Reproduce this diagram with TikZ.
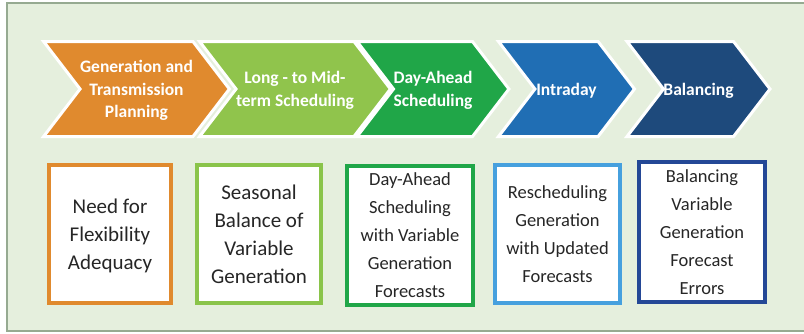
\documentclass[tikz,border=0pt]{standalone}
\usepackage{fontspec}
\setmainfont{Carlito}
\usetikzlibrary{shapes.symbols}

\definecolor{panelfill}{RGB}{229,239,221}
\definecolor{panelline}{RGB}{150,170,145}
\definecolor{planorange}{RGB}{224,138,46}
\definecolor{seasongreen}{RGB}{144,196,76}
\definecolor{daygreen}{RGB}{32,166,72}
\definecolor{intrablue}{RGB}{32,110,180}
\definecolor{balblue}{RGB}{30,74,124}
\definecolor{boxgreen}{RGB}{138,196,74}
\definecolor{boxblue}{RGB}{70,160,222}
\definecolor{boxnavy}{RGB}{36,72,150}
\definecolor{textgray}{RGB}{38,38,38}

\def\panel{(7,3) rectangle (812,331)}

\tikzset{
  stage/.style={signal, signal from=west, signal to=east, signal pointer angle=105,
                draw=white, line width=3pt, minimum height=95pt, inner sep=0pt,
                text depth=0pt, text=white, align=center,
                font=\fontsize{17.5}{22.5}\selectfont\bfseries},
  task/.style={rectangle, draw, line width=4pt, fill=white, inner sep=0pt,
               text depth=0pt, text=textgray, align=center},
  bigtext/.style={font=\fontsize{21}{28}\selectfont},
  smalltext/.style={font=\fontsize{18.5}{28}\selectfont}
}

\begin{document}
\begin{tikzpicture}[x=1pt, y=-1pt]
                      \useasboundingbox (0,0) rectangle (804,333);
                      \begin{scope}
                        \clip (0,0) rectangle (804,333);
                        \draw[panelline, fill=panelfill, line width=2pt] \panel;
                      \end{scope}
                      % stages
                      \node[stage, fill=planorange, minimum width=166pt] (planning) at (136.5,89) {Generation and\\Transmission\\Planning};
                      \node[stage, fill=seasongreen, minimum width=159pt] (longterm) at (295,89) {Long - to Mid-\\term Scheduling};
                      \node[stage, fill=daygreen, minimum width=143pt] (dayahead) at (433,89) {Day-Ahead\\Scheduling};
                      \node[stage, fill=intrablue, minimum width=136pt] (intraday) at (566.5,89) {Intraday};
                      \node[stage, fill=balblue, minimum width=140pt] (balancing) at (698.5,89) {Balancing};
                      % tasks
                      \node[task, bigtext, draw=planorange, minimum width=122pt, minimum height=138pt] (adequacy) at (110,234) {Need for\\Flexibility\\Adequacy};
                      \node[task, bigtext, draw=boxgreen, minimum width=124pt, minimum height=138pt] (seasonal) at (259,234) {Seasonal\\Balance of\\Variable\\Generation};
                      \node[task, smalltext, draw=daygreen, minimum width=126pt, minimum height=139pt] (forecasts) at (410,235.5) {Day-Ahead\\Scheduling\\with Variable\\Generation\\Forecasts};
                      \node[task, smalltext, draw=boxblue, minimum width=125pt, minimum height=138pt] (rescheduling) at (557.5,234) {Rescheduling\\Generation\\with Updated\\Forecasts};
                      \node[task, smalltext, draw=boxnavy, minimum width=126pt, minimum height=140pt] (errors) at (702,232) {Balancing\\Variable\\Generation\\Forecast\\Errors};
                    \end{tikzpicture}
\end{document}
